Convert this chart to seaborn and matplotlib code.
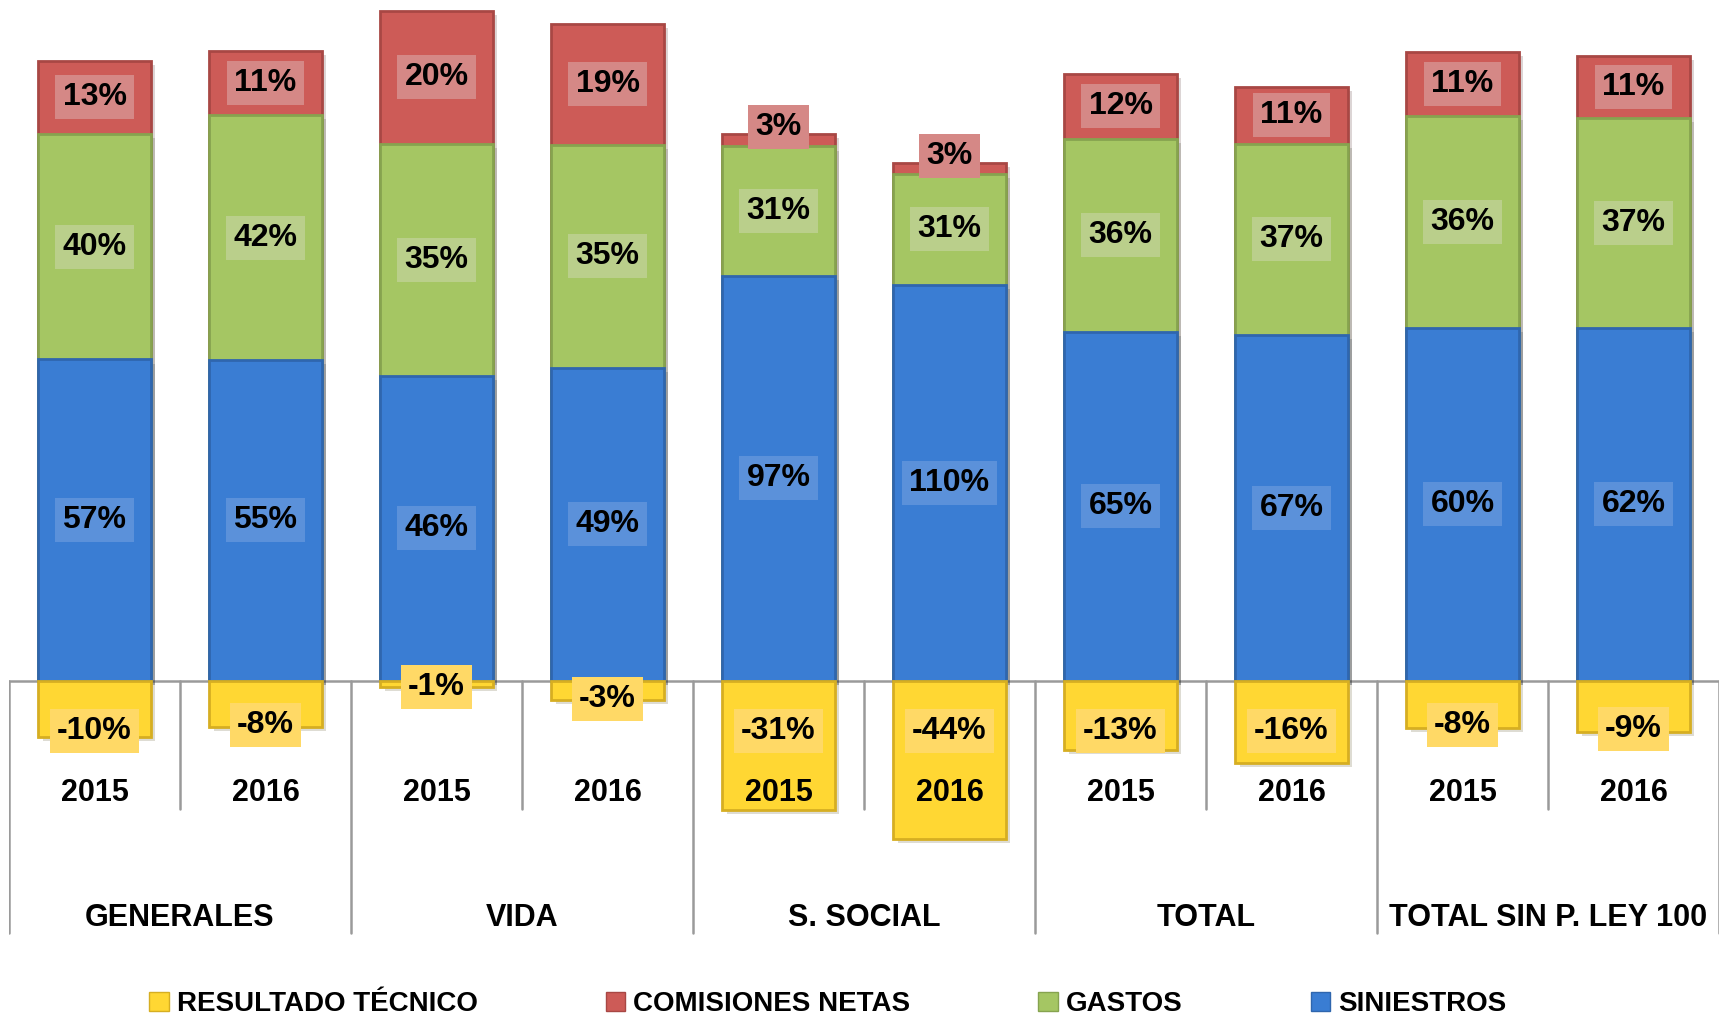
"""
Estructura de costos por ramo (100% apilado, 2015 vs 2016)
"""

import numpy as np
import pandas as pd
import matplotlib
matplotlib.use("Agg")
import matplotlib.pyplot as plt
import matplotlib.patheffects as pe
from matplotlib.patches import Patch
import seaborn as sns

# Data (percent labels)
groups = ["GENERALES", "VIDA", "S. SOCIAL", "TOTAL", "TOTAL SIN P. LEY 100"]
years = ["2015", "2016"]
siniestros = [57, 55, 46, 49, 97, 110, 65, 67, 60, 62]
gastos = [40, 42, 35, 35, 31, 31, 36, 37, 36, 37]
comisiones = [13, 11, 20, 19, 3, 3, 12, 11, 11, 11]
resultado = [-10, -8, -1, -3, -31, -44, -13, -16, -8, -9]

series_names = ["RESULTADO TÉCNICO", "COMISIONES NETAS", "GASTOS", "SINIESTROS"]
colors = {"SINIESTROS": "#3A7DD3", "GASTOS": "#A5C663",
          "COMISIONES NETAS": "#CD5B57", "RESULTADO TÉCNICO": "#FFD733"}
edges = {"SINIESTROS": "#2F66AE", "GASTOS": "#86A34F",
         "COMISIONES NETAS": "#A84744", "RESULTADO TÉCNICO": "#D6AE22"}
boxes = {"SINIESTROS": "#5B91DA", "GASTOS": "#BACF8B",
         "COMISIONES NETAS": "#D58886", "RESULTADO TÉCNICO": "#FFD966"}

sns.set_style("white")
plt.rcParams['font.family'] = ['Liberation Sans Narrow', 'Liberation Sans', 'DejaVu Sans']
plt.rcParams['font.weight'] = 'bold'
plt.rcParams['text.color'] = 'black'

# Build table; Excel 100% stacked -> each bar normalised by sum of absolute values
df = pd.DataFrame({
    "bar": [f"{g} {y}" for g in groups for y in years],
    "SINIESTROS": siniestros, "GASTOS": gastos,
    "COMISIONES NETAS": comisiones, "RESULTADO TÉCNICO": resultado,
})
abs_total = df[["SINIESTROS", "GASTOS", "COMISIONES NETAS", "RESULTADO TÉCNICO"]].abs().sum(axis=1)
df["s_sin"] = df["SINIESTROS"] / abs_total
df["s_gas"] = df["GASTOS"] / abs_total
df["s_com"] = df["COMISIONES NETAS"] / abs_total
df["s_res"] = df["RESULTADO TÉCNICO"] / abs_total
df["top_com"] = df["s_sin"] + df["s_gas"] + df["s_com"]
df["top_gas"] = df["s_sin"] + df["s_gas"]

fig = plt.figure(figsize=(17.21, 10.17), dpi=100)
ax = fig.add_axes([9 / 1721, 1 - 950.9 / 1017, 1710 / 1721, (950.9 - 4.5) / 1017])

W = 0.655
order = list(df["bar"])
layers = [("top_com", "COMISIONES NETAS"), ("top_gas", "GASTOS"),
          ("s_sin", "SINIESTROS"), ("s_res", "RESULTADO TÉCNICO")]
for col, name in layers:
    sns.barplot(data=df, x="bar", y=col, order=order, color=colors[name],
                saturation=1, width=W, edgecolor=edges[name], linewidth=2,
                ax=ax, zorder=2)

# soft drop shadow, like the Excel bevel style
for p in ax.patches:
    p.set_path_effects([pe.SimplePatchShadow(offset=(3, -3), alpha=0.18), pe.Normal()])

ax.set_xlim(-0.5, 9.5)
ax.set_ylim(-0.4, 1.0)
ax.axis("off")

# zero line and category dividers
ax.axhline(0, color="#9A9A9A", lw=1.8, zorder=1)
for k in range(0, 11, 2):
    ax.plot([k - 0.5, k - 0.5], [0, -0.373], color="#9A9A9A", lw=1.8, zorder=1)
for k in range(1, 10, 2):
    ax.plot([k - 0.5, k - 0.5], [0, -0.19], color="#9A9A9A", lw=1.8, zorder=1)

# year and group labels
for i in range(len(order)):
    ax.text(i, -0.167, years[i % 2], ha="center", va="center",
            fontsize=22, fontweight="bold", zorder=6)
for j, g in enumerate(groups):
    ax.text(2 * j + 0.5, -0.351, g, ha="center", va="center",
            fontsize=22, fontweight="bold", zorder=6)

# data labels
def label(x, y, val, name):
    ax.text(x, y, f"{val}%", ha="center", va="center", fontsize=23,
            fontweight="bold", zorder=7,
            bbox=dict(boxstyle="square,pad=0.22", fc=boxes[name], ec="none"))

for i, r in df.iterrows():
    label(i, r["s_sin"] / 2, r["SINIESTROS"], "SINIESTROS")
    label(i, r["s_sin"] + r["s_gas"] / 2, r["GASTOS"], "GASTOS")
    y_com = r["top_gas"] + r["s_com"] / 2
    if r["s_com"] < 0.04:
        y_com = r["top_com"] + 0.01
    label(i, y_com, r["COMISIONES NETAS"], "COMISIONES NETAS")
    h = -r["s_res"]
    label(i, -min(0.95 * h, 0.075), r["RESULTADO TÉCNICO"], "RESULTADO TÉCNICO")

handles = [Patch(facecolor=colors[n], edgecolor=edges[n], linewidth=1) for n in series_names]
fig.legend(handles, series_names, loc="center", bbox_to_anchor=(828 / 1721, 1 - 1004 / 1017),
           ncol=4, frameon=False, handlelength=0.7, handleheight=0.7,
           handletextpad=0.3, columnspacing=4.6, prop={"weight": "bold", "size": 20})

plt.savefig("out.png", dpi=100)
plt.close()
